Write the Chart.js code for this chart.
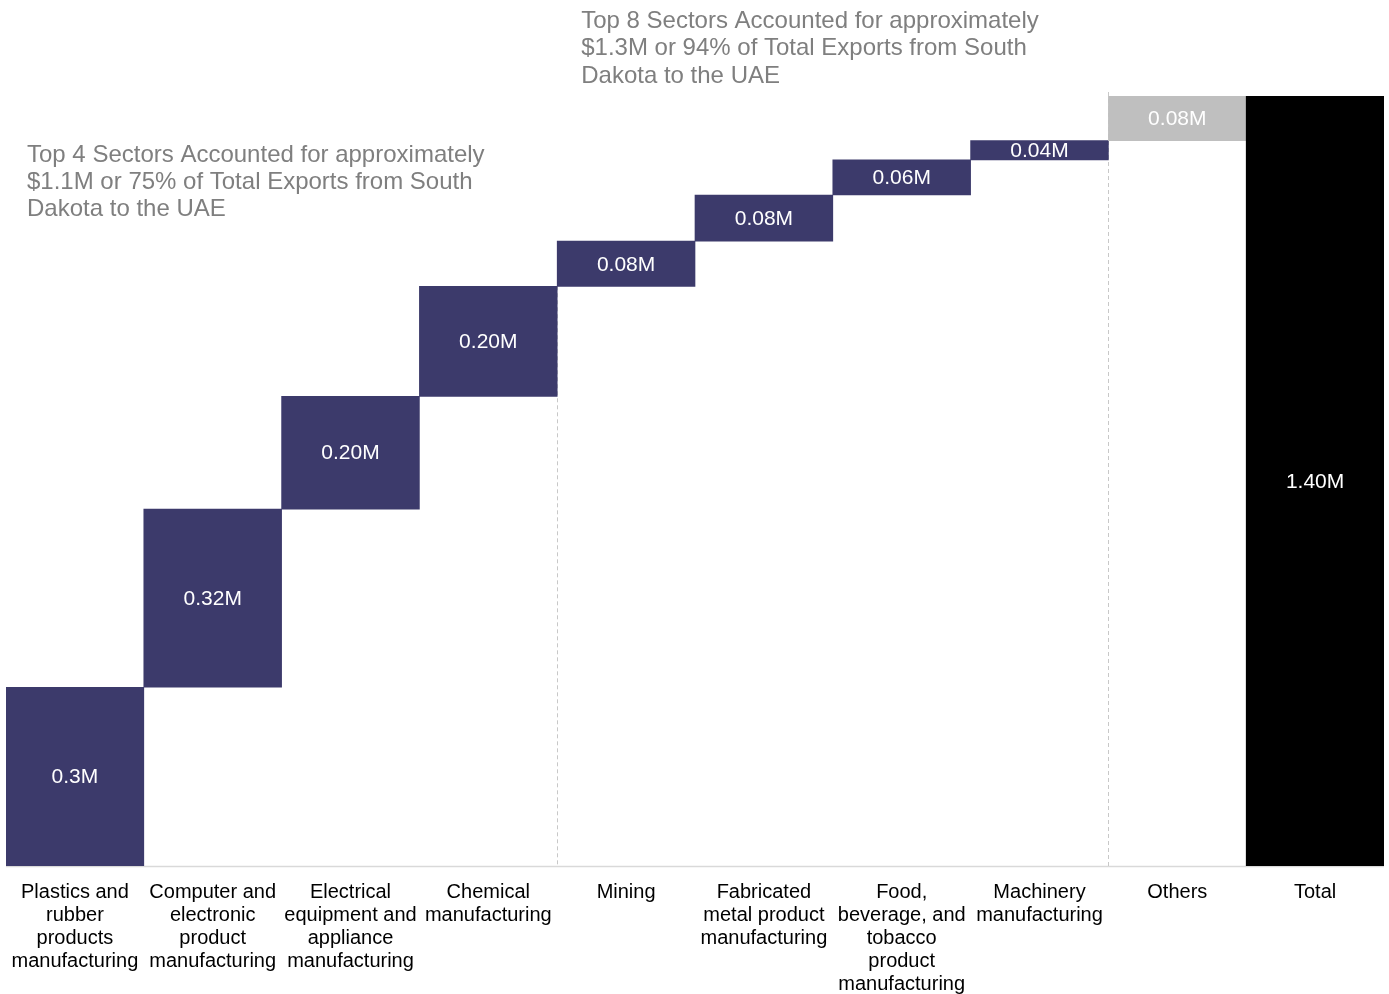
<!DOCTYPE html>
<html>
<head>
<meta charset="utf-8">
<script src="https://cdn.jsdelivr.net/npm/chart.js@4"></script>
<style>
    html, body { margin: 0; padding: 0; background: #fff; }
    #wrap { width: 1389px; height: 994px; position: relative; }
</style>
</head>
<body>
<div id="wrap"><canvas id="waterfall"></canvas></div>
<script>
// Sector names (wrapped the same way as the axis labels)
const categories = [
    ['Plastics and', 'rubber', 'products', 'manufacturing'],
    ['Computer and', 'electronic', 'product', 'manufacturing'],
    ['Electrical', 'equipment and', 'appliance', 'manufacturing'],
    ['Chemical', 'manufacturing'],
    ['Mining'],
    ['Fabricated', 'metal product', 'manufacturing'],
    ['Food,', 'beverage, and', 'tobacco', 'product', 'manufacturing'],
    ['Machinery', 'manufacturing'],
    ['Others'],
    ['Total']
];

// Export value per sector in $M
const sectorValues = [0.325, 0.324, 0.205, 0.200, 0.082, 0.084, 0.064, 0.035, 0.081];
const totalValue = 1.40;

// Labels printed inside the bars
const valueLabels = ['0.3M', '0.32M', '0.20M', '0.20M', '0.08M', '0.08M', '0.06M', '0.04M', '0.08M', '1.40M'];

const barColors = ['#3c3a6b', '#3c3a6b', '#3c3a6b', '#3c3a6b', '#3c3a6b', '#3c3a6b', '#3c3a6b', '#3c3a6b', '#bfbfbf', '#000000'];

const noteTop4 = ['Top 4 Sectors Accounted for approximately', '$1.1M or 75% of Total Exports from South', 'Dakota to the UAE'];
const noteTop8 = ['Top 8 Sectors Accounted for approximately', '$1.3M or 94% of Total Exports from South', 'Dakota to the UAE'];

// build floating [start, end] ranges
const ranges = [];
let running = 0;
sectorValues.forEach(v => {
    ranges.push([running, running + v]);
    running += v;
});
ranges.push([0, totalValue]);

const FONT = '"Liberation Sans", Arial, sans-serif';

const overlayPlugin = {
    id: 'overlay',
    beforeDatasetsDraw(chart) {
        const { ctx, chartArea, scales: { x, y } } = chart;
        ctx.save();
        // baseline
        ctx.strokeStyle = '#d9d9d9';
        ctx.lineWidth = 1.5;
        ctx.beginPath();
        ctx.moveTo(chartArea.left, chartArea.bottom + 0.5);
        ctx.lineTo(chartArea.right, chartArea.bottom + 0.5);
        ctx.stroke();

        // dashed separators after top 4 and top 8
        ctx.strokeStyle = '#c8c8c8';
        ctx.lineWidth = 1;
        ctx.setLineDash([4, 3]);
        [[3, ranges[3][1]], [7, totalValue]].forEach(([i, top]) => {
            const xp = Math.round((x.getPixelForValue(i) + x.getPixelForValue(i + 1)) / 2) + 0.5;
            const yTop = i === 7 ? y.getPixelForValue(top) - 4 : y.getPixelForValue(top);
            ctx.beginPath();
            ctx.moveTo(xp, yTop);
            ctx.lineTo(xp, chartArea.bottom);
            ctx.stroke();
        });
        ctx.restore();
    },
    afterDatasetsDraw(chart) {
        const { ctx, chartArea, scales: { x, y } } = chart;
        ctx.save();
        // value labels
        ctx.fillStyle = '#ffffff';
        ctx.font = '21px ' + FONT;
        ctx.textAlign = 'center';
        ctx.textBaseline = 'middle';
        ranges.forEach((r, i) => {
            const cy = (y.getPixelForValue(r[0]) + y.getPixelForValue(r[1])) / 2;
            ctx.fillText(valueLabels[i], x.getPixelForValue(i), cy + 1);
        });

        // notes
        ctx.fillStyle = '#7f7f7f';
        ctx.font = '24px ' + FONT;
        ctx.textAlign = 'left';
        noteTop4.forEach((line, k) => {
            ctx.fillText(line, chartArea.left + 21, 155 + k * 27);
        });
        const sep = (x.getPixelForValue(3) + x.getPixelForValue(4)) / 2;
        noteTop8.forEach((line, k) => {
            ctx.fillText(line, sep + 24, 21 + k * 27.5);
        });
        ctx.restore();
    }
};

const ctx = document.getElementById('waterfall').getContext('2d');
new Chart(ctx, {
    type: 'bar',
    data: {
        labels: categories,
        datasets: [{
            data: ranges,
            backgroundColor: barColors,
            borderWidth: 0,
            borderSkipped: false,
            barPercentage: 1,
            categoryPercentage: 1
        }]
    },
    options: {
        responsive: true,
        maintainAspectRatio: false,
        animation: false,
        layout: {
            padding: { top: 96, left: 6, right: 5, bottom: 0 }
        },
        plugins: {
            legend: { display: false },
            tooltip: { enabled: false }
        },
        scales: {
            x: {
                grid: { display: false },
                border: { display: false },
                afterFit(scale) {
                    scale.height = 128;
                },
                ticks: {
                    color: '#000000',
                    font: { family: FONT, size: 20, lineHeight: 23 / 20 },
                    maxRotation: 0,
                    autoSkip: false,
                    padding: 7
                }
            },
            y: {
                display: false,
                min: 0,
                max: totalValue
            }
        }
    },
    plugins: [overlayPlugin]
});
</script>
</body>
</html>
